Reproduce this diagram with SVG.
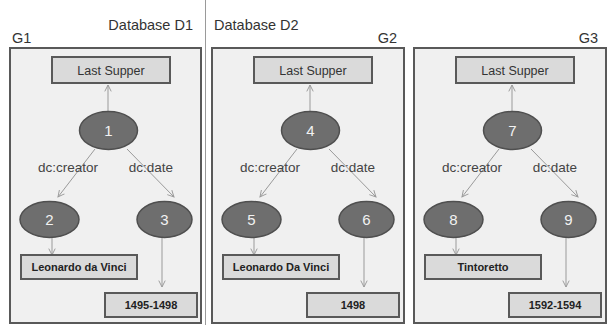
<svg xmlns="http://www.w3.org/2000/svg" width="612" height="325" viewBox="0 0 612 325">
  <style>
    .panel { fill: #f0f0f0; stroke: #595959; stroke-width: 2; }
    .lit { fill: #dadada; stroke: #595959; stroke-width: 2; }
    .res { fill: #6e6e6e; stroke: #4f4f4f; stroke-width: 1.5; }
    .edge { stroke: #9a9a9a; stroke-width: 1; fill: none; marker-end: url(#arr); }
    .head { font-family: "Liberation Sans", Arial, sans-serif; font-size: 14.5px; fill: #333; }
    .lbl { font-family: "Liberation Sans", Arial, sans-serif; font-size: 13.5px; fill: #444; text-anchor: middle; }
    .title { font-family: "Liberation Sans", Arial, sans-serif; font-size: 12.5px; fill: #333; text-anchor: middle; }
    .val { font-family: "Liberation Sans", Arial, sans-serif; font-size: 11px; font-weight: bold; fill: #222; text-anchor: middle; }
    .num { font-family: "Liberation Sans", Arial, sans-serif; font-size: 15px; fill: #f2f2f2; text-anchor: middle; }
  </style>
  <defs>
    <marker id="arr" viewBox="0 0 10 10" refX="9" refY="5" markerWidth="8" markerHeight="8" markerUnits="userSpaceOnUse" orient="auto">
      <polyline points="1,1 9,5 1,9" fill="none" stroke="#9a9a9a" stroke-width="1.2"/>
    </marker>
  </defs>

  <rect width="612" height="325" fill="#ffffff"/>

  <!-- database divider -->
  <line x1="205.5" y1="0" x2="205.5" y2="325" stroke="#9a9a9a" stroke-width="1"/>
  <text class="head" x="193" y="30" text-anchor="end">Database D1</text>
  <text class="head" x="214" y="30">Database D2</text>

  <!-- graph panels -->
  <g id="G1">
    <rect class="panel" x="10" y="48" width="191" height="275"/>
    <text class="head" x="12" y="43">G1</text>
  </g>
  <g id="G2">
    <rect class="panel" x="212" y="48" width="192" height="275"/>
    <text class="head" x="397" y="43" text-anchor="end">G2</text>
  </g>
  <g id="G3">
    <rect class="panel" x="414" y="48" width="192" height="275"/>
    <text class="head" x="598" y="43" text-anchor="end">G3</text>
  </g>

  <!-- connectors -->
  <g id="connectors">
    <line class="edge" x1="108" y1="111" x2="108" y2="85"/>
    <line class="edge" x1="95" y1="149" x2="58" y2="197"/>
    <line class="edge" x1="127" y1="149" x2="174" y2="197"/>
    <line class="edge" x1="52" y1="237" x2="52" y2="255"/>
    <line class="edge" x1="162" y1="237" x2="162" y2="287"/>

    <line class="edge" x1="310" y1="111" x2="310" y2="85"/>
    <line class="edge" x1="297" y1="149" x2="260" y2="197"/>
    <line class="edge" x1="329" y1="149" x2="376" y2="197"/>
    <line class="edge" x1="254" y1="237" x2="254" y2="255"/>
    <line class="edge" x1="364" y1="237" x2="364" y2="287"/>

    <line class="edge" x1="512" y1="111" x2="512" y2="85"/>
    <line class="edge" x1="499" y1="149" x2="462" y2="197"/>
    <line class="edge" x1="531" y1="149" x2="578" y2="197"/>
    <line class="edge" x1="456" y1="237" x2="456" y2="255"/>
    <line class="edge" x1="566" y1="237" x2="566" y2="287"/>
  </g>

  <!-- edge labels -->
  <g id="labels">
    <text class="lbl" x="68" y="172">dc:creator</text>
    <text class="lbl" x="151" y="172">dc:date</text>
    <text class="lbl" x="270" y="172">dc:creator</text>
    <text class="lbl" x="353" y="172">dc:date</text>
    <text class="lbl" x="472" y="172">dc:creator</text>
    <text class="lbl" x="555" y="172">dc:date</text>
  </g>

  <!-- panel G1 nodes -->
  <g id="title1"><rect class="lit" x="52" y="57" width="118" height="26"/><text class="title" x="111" y="75">Last Supper</text></g>
  <g id="n1"><ellipse class="res" cx="108.5" cy="130.5" rx="29" ry="19"/><text class="num" x="108.5" y="136">1</text></g>
  <g id="n2"><ellipse class="res" cx="49.5" cy="219.5" rx="29.5" ry="18"/><text class="num" x="49.5" y="225">2</text></g>
  <g id="n3"><ellipse class="res" cx="164.5" cy="219.5" rx="27.5" ry="18"/><text class="num" x="164.5" y="225">3</text></g>
  <g id="creator1"><rect class="lit" x="21" y="255" width="116" height="24"/><text class="val" x="79" y="271">Leonardo da Vinci</text></g>
  <g id="date1"><rect class="lit" x="105" y="293" width="92" height="24"/><text class="val" x="151" y="309">1495-1498</text></g>

  <!-- panel G2 nodes -->
  <g id="title2"><rect class="lit" x="254" y="57" width="118" height="26"/><text class="title" x="313" y="75">Last Supper</text></g>
  <g id="n4"><ellipse class="res" cx="310.5" cy="130.5" rx="29" ry="19"/><text class="num" x="310.5" y="136">4</text></g>
  <g id="n5"><ellipse class="res" cx="251.5" cy="219.5" rx="29.5" ry="18"/><text class="num" x="251.5" y="225">5</text></g>
  <g id="n6"><ellipse class="res" cx="366.5" cy="219.5" rx="27.5" ry="18"/><text class="num" x="366.5" y="225">6</text></g>
  <g id="creator2"><rect class="lit" x="223" y="255" width="116" height="24"/><text class="val" x="281" y="271">Leonardo Da Vinci</text></g>
  <g id="date2"><rect class="lit" x="307" y="293" width="92" height="24"/><text class="val" x="353" y="309">1498</text></g>

  <!-- panel G3 nodes -->
  <g id="title3"><rect class="lit" x="456" y="57" width="118" height="26"/><text class="title" x="515" y="75">Last Supper</text></g>
  <g id="n7"><ellipse class="res" cx="512.5" cy="130.5" rx="29" ry="19"/><text class="num" x="512.5" y="136">7</text></g>
  <g id="n8"><ellipse class="res" cx="453.5" cy="219.5" rx="29.5" ry="18"/><text class="num" x="453.5" y="225">8</text></g>
  <g id="n9"><ellipse class="res" cx="568.5" cy="219.5" rx="27.5" ry="18"/><text class="num" x="568.5" y="225">9</text></g>
  <g id="creator3"><rect class="lit" x="425" y="255" width="116" height="24"/><text class="val" x="483" y="271">Tintoretto</text></g>
  <g id="date3"><rect class="lit" x="509" y="293" width="92" height="24"/><text class="val" x="555" y="309">1592-1594</text></g>
</svg>
